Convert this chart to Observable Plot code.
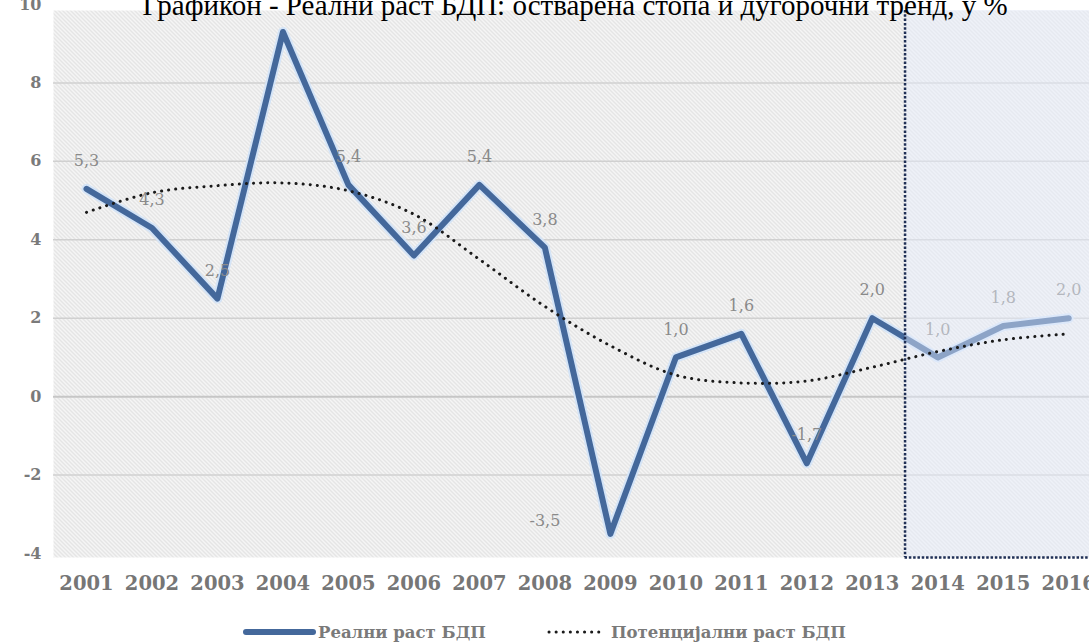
<!DOCTYPE html>
<html><head><meta charset="utf-8">
<script src="https://cdn.jsdelivr.net/npm/d3@7"></script>
<script src="https://cdn.jsdelivr.net/npm/@observablehq/plot@0.6"></script>
<style>
body{margin:0;background:#fff;overflow:hidden;}
#wrap{position:relative;width:1089px;height:643px;overflow:hidden;background:#fff;}
#title{position:absolute;left:0;top:0;}
#legend{position:absolute;left:0;top:612px;}
</style></head><body>
<div id="wrap"><div id="chart"></div><svg id="title" width="1089" height="24"></svg><svg id="legend" width="1089" height="31"></svg></div>
<script>
const titleText = "Графикон - Реални раст БДП: остварена стопа и дугорочни тренд, у %";
const years = [2001,2002,2003,2004,2005,2006,2007,2008,2009,2010,2011,2012,2013,2014,2015,2016];
const realGrowth = [5.3,4.3,2.5,9.3,5.4,3.6,5.4,3.8,-3.5,1.0,1.6,-1.7,2.0,1.0,1.8,2.0];
const potentialGrowth = [4.7,5.2,5.38,5.45,5.25,4.65,3.5,2.3,1.3,0.55,0.35,0.4,0.75,1.15,1.45,1.6];
const seriesNames = ["Реални раст БДП","Потенцијални раст БДП"];
const yTicks = [-4,-2,0,2,4,6,8,10];
const gridValues = [-2,2,4,6,8];
const forecast = [{start: 2013.5, end: 2016.5}];
const hiddenLabelYears = [2004];      // label hidden under the title
const leftLabelYears = [2009];        // label placed left of the point

const fmt = v => String(v.toFixed(1)).replace(".", ",");
const data = years.map((year,i)=>({year, real: realGrowth[i], potential: potentialGrowth[i], label: fmt(realGrowth[i])}));

const serif = "DejaVu Serif";
const plot = Plot.plot({
  width:1089, height:612, marginLeft:53, marginRight:0, marginTop:10, marginBottom:55,
  style:{background:"#fff", overflow:"hidden", fontFamily: serif},
  x:{type:"linear", domain:[2000.5,2016.5], range:[53.25,1101]},
  y:{domain:[-4,10], range:[553,4]},
  marks:[
    Plot.frame({fill:"url(#hatch)", stroke:"none"}),
    Plot.ruleY(gridValues, {stroke:"#d0d0d0", strokeWidth:1.5}),
    Plot.ruleY([0], {stroke:"#c6c6c6", strokeWidth:2}),
    Plot.axisY({ticks:yTicks, tickSize:0, tickPadding:12, tickFormat:d=>String(d), fontSize:16, fontWeight:"bold", fill:"#7a7a7a", fontFamily:serif}),
    Plot.axisX({ticks:years, tickSize:0, tickPadding:19, tickFormat:d=>String(d), fontSize:19.5, fontWeight:"bold", fill:"#767676", fontFamily:serif}),
    Plot.line(data,{x:"year",y:"real",stroke:"#d4e4f7",strokeWidth:10}),
    Plot.line(data,{x:"year",y:"real",stroke:"#44689b",strokeWidth:6}),
    Plot.text(data.filter(d=>!hiddenLabelYears.includes(d.year) && !leftLabelYears.includes(d.year)),
      {x:"year", y:"real", text:"label", dy:-28, fontSize:16, fill:"#8a8a8a", fontFamily:serif}),
    Plot.text(data.filter(d=>leftLabelYears.includes(d.year)),
      {x:"year", y:"real", text:"label", dx:-50, dy:-13, textAnchor:"end", fontSize:16, fill:"#8a8a8a", fontFamily:serif}),
    Plot.rect(forecast,{x1:"start",x2:"end",fill:"#e6eefc",fillOpacity:0.45}),
    Plot.ruleX(forecast,{x:"start", stroke:"#1f2f55", strokeWidth:2.5, strokeDasharray:"2.5 1.8"}),
    Plot.ruleY([-4.1],{x1:forecast[0].start, x2:forecast[0].end, stroke:"#1f2f55", strokeWidth:2.5, strokeDasharray:"2.5 1.8"}),
    Plot.line(data,{x:"year",y:"potential",stroke:"#1a1a1a",strokeWidth:3,strokeDasharray:"0.1 7",strokeLinecap:"round",curve:"catmull-rom"})
  ]
});
d3.select(plot).insert("defs", ":first-child").html(
  `<pattern id="hatch" patternUnits="userSpaceOnUse" width="4" height="4">
     <rect width="4" height="4" fill="#f5f5f5"/>
     <path d="M-1,-1 L5,5 M3,-1 L5,1 M-1,3 L1,5" stroke="#d4d4d4" stroke-width="1"/>
   </pattern>`);
document.getElementById("chart").appendChild(plot);

const t = d3.select("#title");
t.append("text").attr("x",575).attr("y",15).attr("text-anchor","middle")
  .attr("font-family","Liberation Serif").attr("font-size",29).attr("fill","#000").text(titleText);

const lg = d3.select("#legend");
lg.append("line").attr("x1",246).attr("x2",313).attr("y1",20).attr("y2",20)
  .attr("stroke","#44689b").attr("stroke-width",6).attr("stroke-linecap","round");
lg.append("text").attr("x",318).attr("y",26).attr("font-family",serif).attr("font-weight","bold")
  .attr("font-size",16.5).attr("fill","#7a7a7a").text(seriesNames[0]);
lg.append("line").attr("x1",549).attr("x2",601).attr("y1",20).attr("y2",20)
  .attr("stroke","#1a1a1a").attr("stroke-width",3).attr("stroke-dasharray","0.1 7").attr("stroke-linecap","round");
lg.append("text").attr("x",611).attr("y",26).attr("font-family",serif).attr("font-weight","bold")
  .attr("font-size",16.5).attr("fill","#7a7a7a").text(seriesNames[1]);
</script></body></html>
